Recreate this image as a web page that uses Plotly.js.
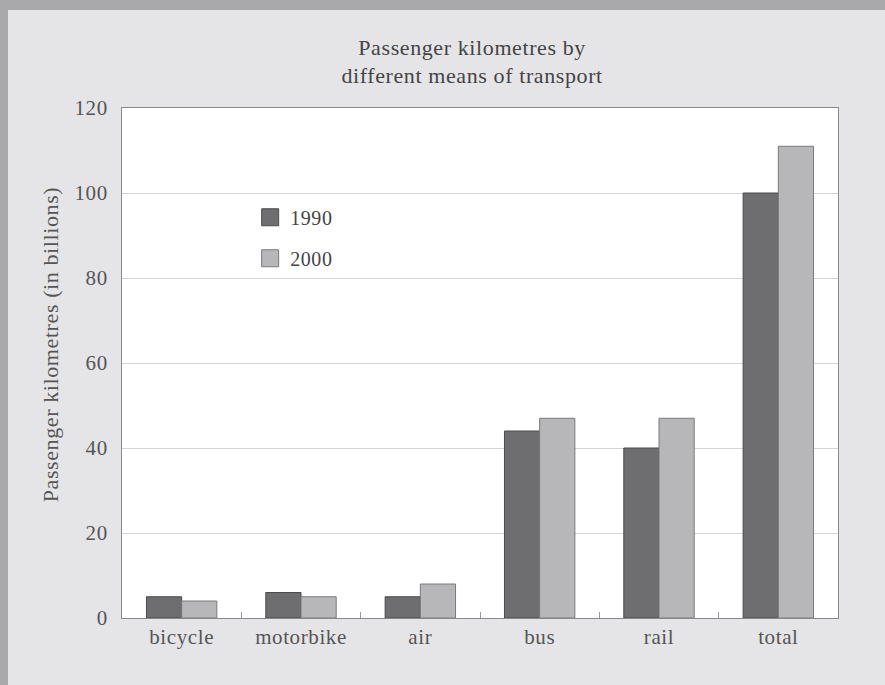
<!DOCTYPE html>
<html>
<head>
<meta charset="utf-8">
<script src="https://cdn.plot.ly/plotly-3.0.1.min.js"></script>
<style>
html,body{margin:0;padding:0;background:#a9a9ab;width:885px;height:685px;overflow:hidden;}
#chart{position:absolute;left:8px;top:10px;width:877px;height:675px;}
#chart svg text{letter-spacing:0.6px;}
#chart .legendpoints path{d:path("M8.5,8.5H-8.5V-8.5H8.5Z");}
</style>
</head>
<body>
<div id="chart"></div>
<script>
const categories = ["bicycle","motorbike","air","bus","rail","total"];
const values1990 = [5, 6, 5, 44, 40, 100];
const values2000 = [4, 5, 8, 47, 47, 111];
const seriesNames = ["1990","2000"];
const yTicks = [0,20,40,60,80,100,120];
const yTitle = "Passenger kilometres (in billions)";

const serif = "Liberation Serif, Times New Roman, serif";
const traces = [
  {type:"bar", name:seriesNames[0], x:categories, y:values1990, legendgroup:"a",
   marker:{color:"#6e6e70", line:{color:"#4a4a4c", width:1}}},
  {type:"bar", name:seriesNames[1], x:categories, y:values2000, legendgroup:"b",
   marker:{color:"#b7b7b9", line:{color:"#7a7a7c", width:1}}}
];
const layout = {
  width:877, height:675,
  paper_bgcolor:"#e5e5e8", plot_bgcolor:"#ffffff",
  margin:{l:114, r:47, t:98, b:67},
  barmode:"group", bargap:0.41, bargroupgap:0,
  font:{family:serif, color:"#555555", size:18},
  title:{text:"Passenger kilometres by<br>different means of transport", x:0.489, xref:"paper", y:0.934, yanchor:"top",
         font:{family:serif, size:22, color:"#444444"}},
  xaxis:{type:"category", tickson:"boundaries", ticks:"inside", ticklen:6, tickcolor:"#999",
         showline:true, linecolor:"#888", mirror:true, showgrid:false,
         tickfont:{family:serif, size:21, color:"#555"}},
  yaxis:{range:[0,120], tickvals:yTicks, showgrid:true, gridcolor:"#d4d4d4", gridwidth:1,
         showline:true, linecolor:"#888", mirror:true, zeroline:false, ticks:"", ticklabelstandoff:9,
         tickfont:{family:serif, size:21, color:"#555"}},
  annotations:[{text:yTitle, xref:"paper", yref:"paper", x:-0.1006, y:0.537, xanchor:"center", yanchor:"middle",
                textangle:-90, showarrow:false, font:{family:serif, size:22, color:"#555"}}],
  showlegend:true,
  legend:{x:0.179, y:0.824, xanchor:"left", yanchor:"top", bgcolor:"rgba(0,0,0,0)",
          tracegroupgap:12, font:{family:serif, size:20, color:"#444"}}
};
Plotly.newPlot("chart", traces, layout, {displayModeBar:false, staticPlot:true});
</script>
</body>
</html>
